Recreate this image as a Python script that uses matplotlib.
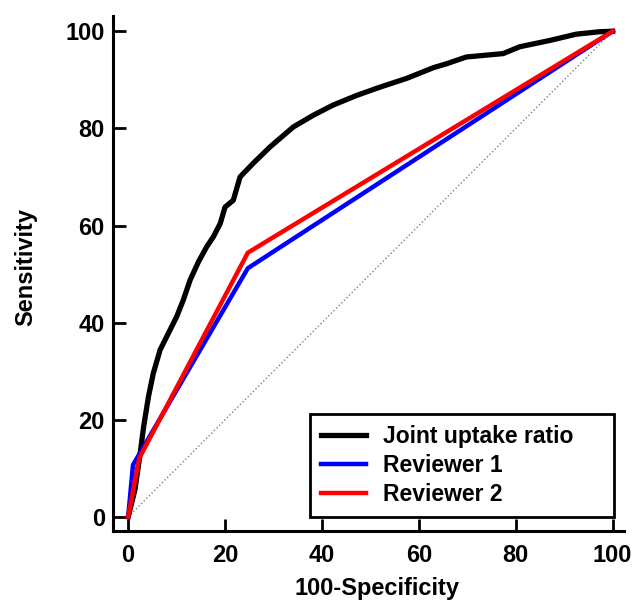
import numpy as np
import matplotlib.pyplot as plt

plt.rcParams['font.family'] = ['Liberation Sans', 'DejaVu Sans']
plt.rcParams['font.weight'] = 'bold'

# ROC curve of the joint uptake ratio
jur_x = [0, 1.4, 2.5, 3.2, 4.2, 5.2, 6.6, 8.3, 10.0, 11.4, 12.8, 14.5, 16.2, 17.6,
         19.0, 20.0, 21.7, 23.1, 25.8, 29.3, 34.1, 38.2, 42.3, 47.2, 52.0, 57.5,
         63.0, 65.7, 69.8, 77.4, 80.8, 87.0, 92.5, 97.3, 100]
jur_y = [0, 5.6, 13.2, 18.6, 24.8, 29.6, 34.4, 37.8, 41.2, 44.7, 48.8, 52.5, 55.6, 57.7,
         60.4, 63.8, 65.2, 70.0, 72.8, 76.2, 80.3, 82.7, 84.8, 86.8, 88.5, 90.3,
         92.5, 93.3, 94.7, 95.4, 96.8, 98.1, 99.4, 99.9, 100]

rev1_x = [0, 1.0, 24.7, 100]
rev1_y = [0, 10.7, 51.2, 100]
rev2_x = [0, 2.3, 24.7, 100]
rev2_y = [0, 12.1, 54.4, 100]

ticks = [0, 20, 40, 60, 80, 100]
fs = 17

fig = plt.figure(figsize=(6.32, 6.0), dpi=100)
ax = fig.add_axes([0.179, 0.115, 0.808, 0.858])

ax.plot([0, 100], [0, 100], color='gray', linestyle=':', linewidth=1.0)
ax.plot(jur_x, jur_y, color='black', linewidth=3.8, label='Joint uptake ratio')
ax.plot(rev1_x, rev1_y, color='blue', linewidth=3.2, label='Reviewer 1')
ax.plot(rev2_x, rev2_y, color='red', linewidth=3.2, label='Reviewer 2')

ax.set_xlim(-3.1, 102.3)
ax.set_ylim(-2.9, 103.1)
ax.set_xticks(ticks)
ax.set_yticks(ticks)
ax.spines['top'].set_visible(False)
ax.spines['right'].set_visible(False)
ax.spines['left'].set_linewidth(2.2)
ax.spines['bottom'].set_linewidth(2.2)
ax.tick_params(direction='in', length=9, width=2, labelsize=fs)
ax.tick_params(axis='y', pad=6)
ax.tick_params(axis='x', pad=9)
for lab in ax.get_xticklabels() + ax.get_yticklabels():
    lab.set_fontweight('bold')

ax.set_xlabel('100-Specificity', fontsize=fs, fontweight='bold', labelpad=7.5)
ax.set_ylabel('Sensitivity', fontsize=fs, fontweight='bold', labelpad=20)
ax.xaxis.label.set_x(0.516)
ax.yaxis.label.set_y(0.513)

leg = ax.legend(loc='lower left', bbox_to_anchor=(0.3855, 0.027, 0.5945, 0.2),
                mode='expand', borderaxespad=0,
                fancybox=False, frameon=True, edgecolor='black', framealpha=1,
                prop={'size': 16.5, 'weight': 'bold'},
                handlelength=1.95, handletextpad=0.75, labelspacing=0.25,
                borderpad=0.5)
leg.get_frame().set_linewidth(2)

plt.savefig('out.png', dpi=100)
